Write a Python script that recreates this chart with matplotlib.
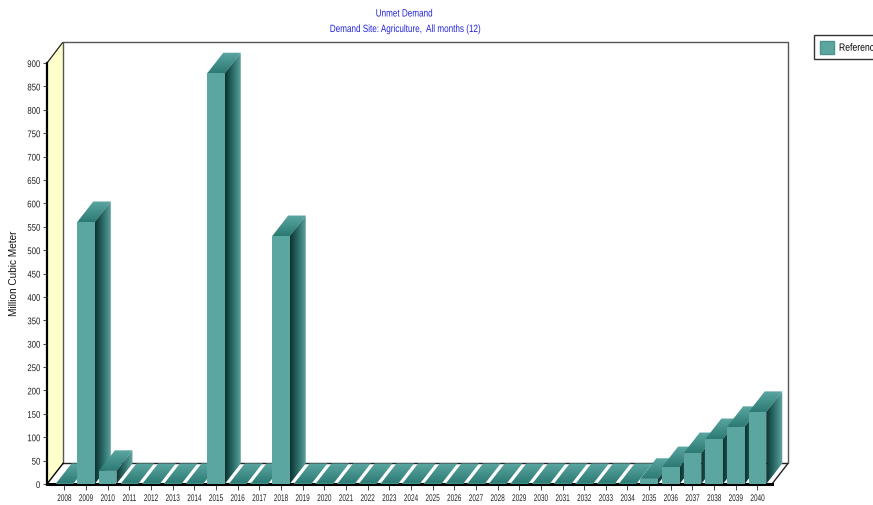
import numpy as np
import matplotlib
matplotlib.use("Agg")
import matplotlib.pyplot as plt
from matplotlib.colors import LinearSegmentedColormap
from matplotlib.patches import Patch, Polygon
from matplotlib.patheffects import AbstractPathEffect
from matplotlib.transforms import Affine2D

years = list(range(2008, 2041))
unmet = [0, 560, 28, 0, 0, 0, 0, 878, 0, 0, 530, 0, 0, 0, 0, 0, 0, 0, 0, 0,
         0, 0, 0, 0, 0, 0, 0, 11, 36, 66, 96, 122, 154]
y_ticks = list(range(0, 901, 50))

W, H = 873, 505
plt.rcParams["font.family"] = ["Liberation Sans", "DejaVu Sans"]

FRONT = "#5ba6a1"
side_cmap = LinearSegmentedColormap.from_list("side", ["#0b3230", "#2d6f6a", "#62a8a3"])
top_cmap = LinearSegmentedColormap.from_list("top", ["#2c7a74", "#5ba6a1"])

# one year is 21.66 px wide, one unit of the value axis 0.4678 px high
BAR_W = 0.81
DX = 0.74
DY = 44.0
X0, X1 = -0.80, 33.41
Y1 = 945.0
WALL = "#555555"


class Condense(AbstractPathEffect):
    # squeezes a text sideways, no condensed font is available
    def __init__(self, sx, anchor="center"):
        super().__init__()
        self.sx = sx
        self.anchor = anchor

    def draw_path(self, renderer, gc, tpath, affine, rgbFace=None):
        box = tpath.get_extents(affine)
        ref = {"left": box.x0, "right": box.x1, "center": (box.x0 + box.x1) / 2}[self.anchor]
        squeeze = Affine2D().translate(-ref, 0).scale(self.sx, 1).translate(ref, 0)
        renderer.draw_path(gc, tpath, affine + squeeze, rgbFace)


fig = plt.figure(figsize=(W / 100, H / 100), dpi=100, facecolor="white")
ax = fig.add_axes([47 / W, 1 - 484 / H, (788 - 47) / W, (484 - 42) / H])
ax.patch.set_alpha(0)


def gradient_face(pts, horizontal, cmap, z):
    xs = [p[0] for p in pts]
    ys = [p[1] for p in pts]
    ramp = np.linspace(0, 1, 64)
    ramp = ramp[None, :] if horizontal else ramp[:, None]
    im = ax.imshow(ramp, cmap=cmap, vmin=0, vmax=1, origin="lower", aspect="auto",
                   interpolation="bilinear", zorder=z,
                   extent=(min(xs), max(xs), min(ys), max(ys)))
    im.set_clip_path(Polygon(pts, closed=True, transform=ax.transData))


# left wall and floor behind the bars
ax.add_patch(Polygon([(X0, 0), (X0 + DX, DY), (X0 + DX, Y1), (X0, 900)], closed=True,
                     facecolor="#ffffcc", edgecolor="none", zorder=1))
ax.plot([X0, X0 + DX], [900, Y1], color="#222222", lw=0.9, zorder=2)
ax.plot([X0 + DX, X0 + DX], [DY, Y1], color=WALL, lw=1.0, zorder=2)
ax.plot([X0 + DX, X1, X1], [Y1, Y1, DY], color=WALL, lw=1.0, zorder=2, clip_on=False)
ax.plot([X0 + DX, X1], [DY, DY], color="#222222", lw=1.0, zorder=2)
ax.plot([X0, X0 + DX], [0, DY], color="black", lw=1.0, zorder=2)
ax.plot([X1 - DX, X1], [0, DY], color="#222222", lw=1.0, zorder=2)

# bars go left to right so each one covers the side of the previous one
for i, v in enumerate(unmet):
    z = 4 + i * 0.01
    left, right = i - BAR_W / 2, i + BAR_W / 2
    gradient_face([(left, v), (right, v), (right + DX, v + DY), (left + DX, v + DY)],
                  False, top_cmap, z)
    gradient_face([(right, 0), (right + DX, DY), (right + DX, v + DY), (right, v)],
                  True, side_cmap, z)
    if v > 0:
        ax.bar(i, v, width=BAR_W, color=FRONT, linewidth=0, zorder=z + 0.001)
    else:
        ax.plot([left, right], [v + 2, v + 2], color="#3f8f89", lw=1.0, zorder=z + 0.001,
                solid_capstyle="butt")

ax.set_xlim(X0, X1)
ax.set_ylim(0, Y1)

for name in ("top", "right"):
    ax.spines[name].set_visible(False)
ax.spines["left"].set_bounds(0, 900)
ax.spines["left"].set_linewidth(1.6)
ax.spines["bottom"].set_bounds(X0, X1 - DX)
ax.spines["bottom"].set_linewidth(2.2)
ax.spines["left"].set_zorder(3)
ax.spines["bottom"].set_zorder(3)

ax.set_yticks(y_ticks)
ax.set_xticks(range(len(years)))
ax.set_xticklabels(years)
ax.tick_params(axis="y", length=3, width=0.7, color="#444444", labelsize=7.0,
               labelcolor="#222222", pad=1.8)
ax.tick_params(axis="x", length=4, width=0.7, color="#444444", labelsize=7.0,
               labelcolor="#222222", pad=2.5)
for lab in ax.get_yticklabels():
    lab.set_path_effects([Condense(0.8, "right")])
for lab in ax.get_xticklabels():
    lab.set_path_effects([Condense(0.66)])

fig.text(14 / W, 1 - 273 / H, "Million Cubic Meter", rotation=90, ha="center", va="center",
         fontsize=7.2, color="#111111")
t1 = fig.text(404 / W, 1 - 13.5 / H, "Unmet Demand", ha="center", va="center",
              fontsize=7.6, color="#2222dd")
t2 = fig.text(405 / W, 1 - 29 / H, "Demand Site: Agriculture,  All months (12)", ha="center",
              va="center", fontsize=7.6, color="#2222dd")
t1.set_path_effects([Condense(0.77)])
t2.set_path_effects([Condense(0.77)])

leg = fig.legend(handles=[Patch(facecolor=FRONT, edgecolor="#4b9590", label="Reference")],
                 loc="upper left", bbox_to_anchor=(814 / W, 1 - 35 / H),
                 bbox_transform=fig.transFigure, fontsize=7.6, fancybox=False,
                 framealpha=1, edgecolor="#333333", borderaxespad=0, borderpad=0.55,
                 handlelength=1.35, handleheight=1.5, handletextpad=0.45)
leg.get_frame().set_linewidth(1.0)
for lab in leg.get_texts():
    lab.set_path_effects([Condense(0.82, "left")])

fig.savefig("out.png", dpi=100)
